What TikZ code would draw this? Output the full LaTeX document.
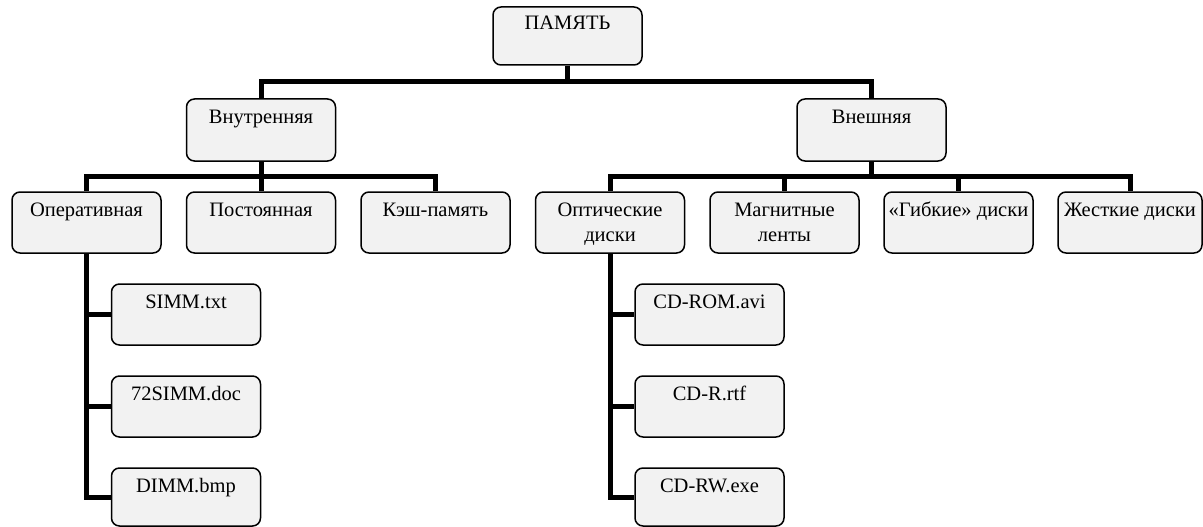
\documentclass[tikz,border=0pt]{standalone}
\usepackage{fontspec}
\setmainfont{Liberation Serif}
\usetikzlibrary{calc}
\definecolor{boxgray}{HTML}{F2F2F2}
\newcommand{\boxtext}[4][140pt]{\parbox[c][#2][t]{#1}{\centering\rule{0pt}{#3}#4}}
\tikzset{
  bx/.style={draw=black, line width=1.5pt, fill=boxgray, rounded corners=8pt,
    inner sep=0pt, minimum width=149pt, font=\fontsize{20.5pt}{25pt}\selectfont},
  conn/.style={draw=black, line width=5pt},
  tree/.style={to path={|- ($(\tikztostart)!0.5!(\tikztotarget)$) -| (\tikztotarget)}}
}
\begin{document}
\begin{tikzpicture}[x=1pt,y=-1pt]
\useasboundingbox (0,0) rectangle (1203,527);
% level 0
\node[bx] (mem) at (567.5,36) {\boxtext{58pt}{22pt}{ПАМЯТЬ}};
% level 1
\node[bx] (int) at (261,130) {\boxtext{62pt}{24pt}{Внутренняя}};
\node[bx] (ext) at (871.5,130) {\boxtext{62pt}{24pt}{Внешняя}};
% level 2
\node[bx] (op)   at (86.5,222.5)  {\boxtext{61pt}{24pt}{Оперативная}};
\node[bx] (post) at (261,222.5)   {\boxtext{61pt}{24pt}{Постоянная}};
\node[bx] (kesh) at (435.5,222.5) {\boxtext{61pt}{24pt}{Кэш-память}};
\node[bx] (opt)  at (610,222.5)   {\boxtext{61pt}{24pt}{Оптические\\диски}};
\node[bx] (magn) at (784.5,222.5) {\boxtext{61pt}{24pt}{Магнитные\\ленты}};
\node[bx] (gib)  at (958.5,222.5) {\boxtext{61pt}{24pt}{«Гибкие» диски}};
\node[bx, minimum width=144pt] (zh) at (1130,222.5) {\boxtext{61pt}{24pt}{Жесткие диски}};
% level 3
\node[bx] (simm)  at (186,314.5) {\boxtext{61pt}{24pt}{SIMM.txt}};
\node[bx] (s72)   at (186,406.5) {\boxtext{61pt}{24pt}{72SIMM.doc}};
\node[bx] (dimm)  at (186,497)   {\boxtext{58pt}{24pt}{DIMM.bmp}};
\node[bx] (cdrom) at (709.5,314.5) {\boxtext{61pt}{24pt}{CD-ROM.avi}};
\node[bx] (cdr)   at (709.5,406.5) {\boxtext{61pt}{24pt}{CD-R.rtf}};
\node[bx] (cdrw)  at (709.5,497)   {\boxtext{58pt}{24pt}{CD-RW.exe}};
% connectors
\draw[conn] (mem.south) to[tree] (int.north);
\draw[conn] (mem.south) to[tree] (ext.north);
\draw[conn] (int.south) to[tree] (op.north);
\draw[conn] (int.south) to[tree] (post.north);
\draw[conn] (int.south) to[tree] (kesh.north);
\draw[conn] (ext.south) to[tree] (opt.north);
\draw[conn] (ext.south) to[tree] (magn.north);
\draw[conn] (ext.south) to[tree] (gib.north);
\draw[conn] (ext.south) to[tree] (zh.north);
\draw[conn] (op.south) |- (simm.west);
\draw[conn] (op.south) |- (s72.west);
\draw[conn] (op.south) |- (dimm.west);
\draw[conn] (opt.south) |- (cdrom.west);
\draw[conn] (opt.south) |- (cdr.west);
\draw[conn] (opt.south) |- (cdrw.west);
\end{tikzpicture}
\end{document}
